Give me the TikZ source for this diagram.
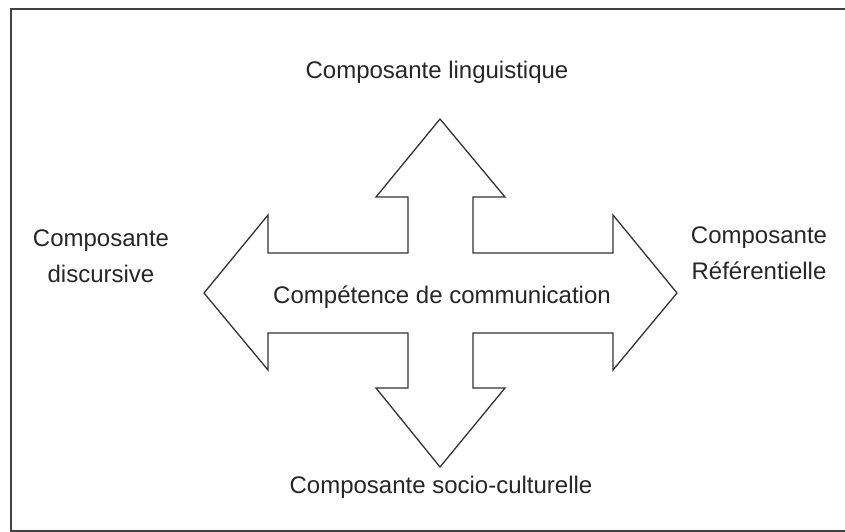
\documentclass[tikz,border=0pt]{standalone}
\usepackage{fontspec}
\setmainfont{Liberation Sans}
\usetikzlibrary{positioning}

\begin{document}
\begin{tikzpicture}[x=1pt, y=-1pt, lbl/.style={align=center, anchor=base, inner sep=0pt, font=\fontsize{24}{36}\selectfont, text=black!85}]
	\useasboundingbox (0,0) rectangle (845,532);
	\draw [line width=2.5pt, black!75] (846,9) -- (11,9) -- (11,531) -- (846,531);
	% the four-way arrow
	\draw [line width=1.3pt, black!80, line join=miter, fill=white]
	  (440,119) -- (505,197) -- (473,197) -- (473,253) -- (613,253) -- (613,215) -- (677,293)
	  -- (613,370) -- (613,333) -- (473,333) -- (473,388) -- (505,388) -- (440,467)
	  -- (376,388) -- (408,388) -- (408,333) -- (268,333) -- (268,370) -- (204,293)
	  -- (268,215) -- (268,253) -- (408,253) -- (408,197) -- (376,197) -- cycle;
	\node (comp) [lbl] at (442,303) {Compétence de communication};
	\node (ling) [lbl] at (437,79) {Composante linguistique};
	\node (socio) [lbl] at (441,493) {Composante socio-culturelle};
	\node (disc) [lbl] at (101,282) {Composante\\discursive};
	\node (ref) [lbl] at (759,279) {Composante\\Référentielle};
\end{tikzpicture}
\end{document}
